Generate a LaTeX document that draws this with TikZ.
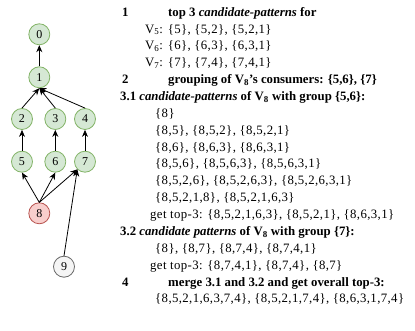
\documentclass[tikz,border=0pt]{standalone}
\usepackage{fontspec}
\setmainfont{Liberation Serif}
\newfontfamily\setfont[LetterSpace=3]{Liberation Serif}
\usepackage{xcolor}
\usetikzlibrary{arrows.meta}
\definecolor{PGFill}{HTML}{D5E8D4}
\definecolor{PGLine}{HTML}{82B366}
\definecolor{PRFill}{HTML}{F8CECC}
\definecolor{PRLine}{HTML}{B85450}
\definecolor{PNFill}{HTML}{F5F5F5}
\definecolor{PNLine}{HTML}{666666}
\tikzset{
  vtx/.style={circle,minimum size=21pt,inner sep=0pt,line width=0.8pt,
    draw=PGLine,fill=PGFill,font=\fontsize{12}{14}\selectfont},
  vtxred/.style={vtx,draw=PRLine,fill=PRFill},
  vtxgray/.style={vtx,draw=PNLine,fill=PNFill},
  edge/.style={draw=black,line width=0.8pt,-{Stealth[length=7pt,width=6pt]}},
  txt/.style={anchor=west,inner sep=0pt,text height=8.5pt,text depth=2.5pt,
    font=\fontsize{12.8}{15}\selectfont\setfont},
  txtb/.style={txt,font=\fontsize{12.8}{15}\selectfont\bfseries}
}

\begin{document}
\begin{tikzpicture}[x=1pt,y=1pt]
\path[use as bounding box] (0,0) rectangle (415,331);
% graph
\node[vtx] (v0) at (39.3,296.7) {0};
\node[vtx] (v1) at (39.3,253.7) {1};
\node[vtx] (v2) at (22,212) {2};
\node[vtx] (v3) at (55.3,212) {3};
\node[vtx] (v4) at (85,212) {4};
\node[vtx] (v5) at (22,169.3) {5};
\node[vtx] (v6) at (55.3,169.3) {6};
\node[vtx] (v7) at (85,169.3) {7};
\node[vtxred] (v8) at (39.3,117.7) {8};
\node[vtxgray] (v9) at (64,64.3) {9};
\draw[edge] (v1) -- (v0);
\draw[edge] (v2.north) -- (v1.south);
\draw[edge] (v3.north) -- (v1.south);
\draw[edge] (v4.north) -- (v1.south);
\draw[edge] (v5) -- (v2);
\draw[edge] (v6) -- (v3);
\draw[edge] (v7) -- (v4);
\draw[edge] (v8.north) -- (v5.south);
\draw[edge] (v8.north) -- (v6.south);
\draw[edge] (v8.north) -- (v7.south west);
\draw[edge] (v9.north) -- (v7.south west);
% steps
\node[txtb] (n1) at (122,317.7) {1};
\node[txtb] (s1) at (168,317.7) {top 3 \textit{candidate-patterns} for};
\node[txt] (s1a) at (145,300.8) {V\textsubscript{5}: \{5\}, \{5,2\}, \{5,2,1\}};
\node[txt] (s1b) at (145,284.0) {V\textsubscript{6}: \{6\}, \{6,3\}, \{6,3,1\}};
\node[txt] (s1c) at (145,267.1) {V\textsubscript{7}: \{7\}, \{7,4\}, \{7,4,1\}};
\node[txtb] (n2) at (122,250.3) {2};
\node[txtb] (s2) at (168,250.3) {grouping of V\textsubscript{8}'s consumers: \{5,6\}, \{7\}};
\node[txtb] (s31) at (120,233.4) {3.1 \textit{candidate-patterns} of V\textsubscript{8} with group \{5,6\}:};
\node[txt] (s31a) at (155,216.5) {\{8\}};
\node[txt] (s31b) at (155,199.7) {\{8,5\}, \{8,5,2\}, \{8,5,2,1\}};
\node[txt] (s31c) at (155,182.8) {\{8,6\}, \{8,6,3\}, \{8,6,3,1\}};
\node[txt] (s31d) at (155,166.0) {\{8,5,6\}, \{8,5,6,3\}, \{8,5,6,3,1\}};
\node[txt] (s31e) at (155,149.1) {\{8,5,2,6\}, \{8,5,2,6,3\}, \{8,5,2,6,3,1\}};
\node[txt] (s31f) at (155,132.2) {\{8,5,2,1,8\}, \{8,5,2,1,6,3\}};
\node[txt] (s31g) at (150,115.4) {get top-3: \{8,5,2,1,6,3\}, \{8,5,2,1\}, \{8,6,3,1\}};
\node[txtb] (s32) at (120,98.5) {3.2 \textit{candidate patterns} of V\textsubscript{8} with group \{7\}:};
\node[txt] (s32a) at (155,81.7) {\{8\}, \{8,7\}, \{8,7,4\}, \{8,7,4,1\}};
\node[txt] (s32b) at (150,64.8) {get top-3: \{8,7,4,1\}, \{8,7,4\}, \{8,7\}};
\node[txtb] (n4) at (122,47.9) {4};
\node[txtb] (s4) at (168,47.9) {merge 3.1 and 3.2 and get overall top-3:};
\node[txt] (s4a) at (155,31.1) {\{8,5,2,1,6,3,7,4\}, \{8,5,2,1,7,4\}, \{8,6,3,1,7,4\}};
\end{tikzpicture}
\end{document}
